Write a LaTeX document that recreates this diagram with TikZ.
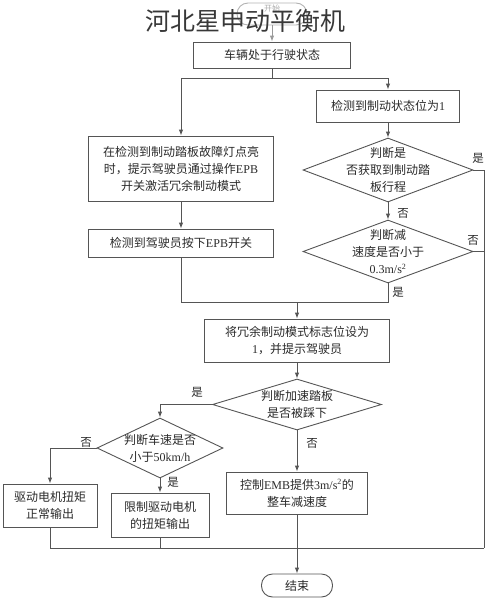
\documentclass[tikz,border=0pt]{standalone}
\usepackage{fontspec}
\setmainfont{Liberation Serif}
\newfontfamily\cj{Noto Sans CJK SC}
\newfontfamily\lat{Liberation Serif}
\usetikzlibrary{arrows.meta,shapes.geometric}
\definecolor{ln}{HTML}{555555}
\definecolor{tx}{HTML}{2A2A2A}
\tikzset{
  every node/.style={font=\cj\fontsize{12}{17}\selectfont, text=tx},
  box/.style={draw=ln, line width=0.9pt, rectangle, align=center, inner sep=0pt},
  dia/.style={draw=ln, line width=0.9pt, diamond, inner sep=0pt},
  term/.style={draw=ln, line width=0.9pt, rectangle, rounded corners=11pt, inner sep=0pt},
  ln/.style={draw=ln, line width=0.9pt},
  arr/.style={ln, -{Latex[length=6pt,width=4.5pt]}},
  lbl/.style={font=\cj\fontsize{11.5}{12}\selectfont, inner sep=0pt},
  dtext/.style={align=center, inner sep=0pt}
}
\begin{document}
\begin{tikzpicture}[x=1pt,y=-1pt]
\useasboundingbox (0,0) rectangle (487,600);
% start terminal (faded under watermark)
\node[term, draw=ln!45, minimum width=70pt, minimum height=22pt] (start) at (272,14) {};
\node[font=\cj\fontsize{8}{9}\selectfont, text=tx!40, inner sep=0pt] (starttext) at (272,8.5) {开始};
% watermark title
\node[font=\cj\fontsize{25}{26}\selectfont, text=black!78] (title) at (245,20.5) {河北星申动平衡机};
% boxes
\node[box, minimum width=157pt, minimum height=26pt] (b1) at (272,55) {车辆处于行驶状态};
\node[box, minimum width=143pt, minimum height=32pt] (b2) at (388,106) {检测到制动状态位为\lat 1};
\node[box, minimum width=185pt, minimum height=65pt] (b3) at (181,168.5) {在检测到制动踏板故障灯点亮\\时，提示驾驶员通过操作{\lat EPB}\\开关激活冗余制动模式};
\node[box, minimum width=185pt, minimum height=28pt] (b4) at (181,243) {检测到驾驶员按下{\lat EPB}开关};
\node[dia, minimum width=170pt, minimum height=64pt] (d1) at (388,170) {};
\node[dtext] at (d1.center) {判断是\\否获取到制动踏\\板行程};
\node[dia, minimum width=170pt, minimum height=63pt] (d2) at (388,251.5) {};
\node[dtext] at (d2.center) {判断减\\速度是否小于\\{\lat 0.3m/s\textsuperscript{2}}};
\node[box, minimum width=185pt, minimum height=43pt] (b5) at (297,340.5) {将冗余制动模式标志位设为\\{\lat 1}，并提示驾驶员};
\node[dia, minimum width=169pt, minimum height=51pt] (d3) at (297,404.5) {};
\node[dtext] at (d3.center) {判断加速踏板\\是否被踩下};
\node[dia, minimum width=126pt, minimum height=60pt] (d4) at (160,448) {};
\node[dtext] at (d4.center) {判断车速是否\\小于{\lat 50km/h}};
\node[box, minimum width=94pt, minimum height=43pt] (b6) at (50,505.5) {驱动电机扭矩\\正常输出};
\node[box, minimum width=98pt, minimum height=44pt] (b7) at (160,515) {限制驱动电机\\的扭矩输出};
\node[box, minimum width=141pt, minimum height=42pt] (b8) at (297,493) {控制{\lat EMB}提供{\lat 3m/s\textsuperscript{2}}的\\整车减速度};
\node[term, minimum width=71pt, minimum height=23pt] (end) at (297,585.5) {结束};
% rail coordinates
\coordinate (s1) at (272,78);
\coordinate (m1) at (297,302);
\coordinate (rr) at (484,548);
\coordinate (bl) at (50,548);
% connectors
\draw[arr, draw=ln!60] (start.south) -- (b1.north);
\draw[arr] (b1.south) -- (s1) -| (b2.north);
\draw[arr] (s1) -| (b3.north);
\draw[arr] (b2.south) -- (d1.north);
\draw[arr] (d1.south) -- (d2.north);
\draw[ln] (d1.east) -| (rr);
\draw[ln] (d2.east) -- (d2.east -| rr);
\draw[arr] (b3.south) -- (b4.north);
\draw[ln] (b4.south) |- (m1);
\draw[ln] (d2.south) |- (m1);
\draw[arr] (m1) -- (b5.north);
\draw[arr] (b5.south) -- (d3.north);
\draw[arr] (d3.west) -| (d4.north);
\draw[arr] (d3.south) -- (b8.north);
\draw[arr] (d4.west) -| (b6.north);
\draw[arr] (d4.south) -- (b7.north);
\draw[ln] (b6.south) -- (bl) -- (rr);
\draw[ln] (b7.south) -- (b7.south |- bl);
\draw[arr] (b8.south) -- (end.north);
% labels
\node[lbl] (l1) at (478,158) {是};
\node[lbl] (l2) at (403,213) {否};
\node[lbl] (l3) at (473,240) {否};
\node[lbl] (l4) at (398,292) {是};
\node[lbl] (l5) at (197,392) {是};
\node[lbl] (l6) at (312,443) {否};
\node[lbl] (l7) at (86,442) {否};
\node[lbl] (l8) at (173,482) {是};
\end{tikzpicture}
\end{document}
